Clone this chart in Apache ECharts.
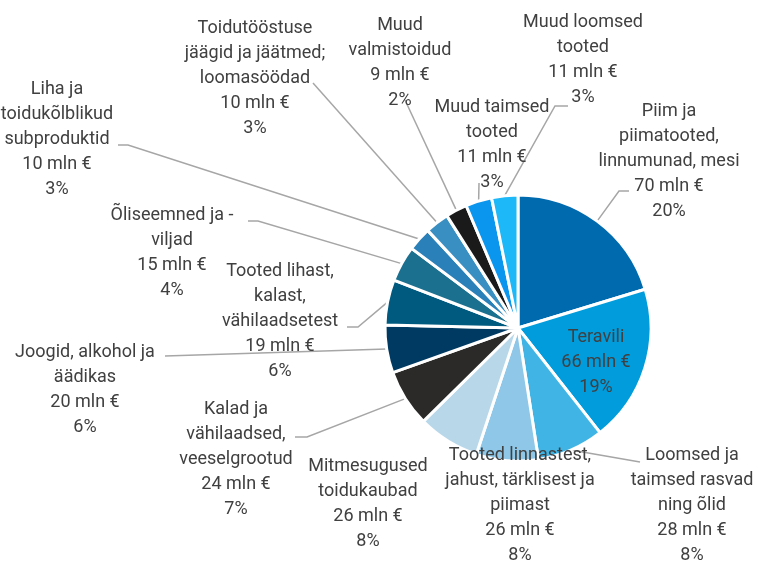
<!DOCTYPE html>
<html>
<head>
<meta charset="utf-8">
<script src="https://cdn.jsdelivr.net/npm/echarts@6/dist/echarts.min.js"></script>
<style>
  html, body { margin: 0; padding: 0; background: #fff; }
  #chart { width: 760px; height: 565px; }
</style>
</head>
<body>
<div id="chart"></div>
<script>
// slices, clockwise from 12 o'clock
const categories = [
  "Piim ja\npiimatooted,\nlinnumunad, mesi",
  "Teravili",
  "Loomsed ja\ntaimsed rasvad\nning õlid",
  "Tooted linnastest,\njahust, tärklisest ja\npiimast",
  "Mitmesugused\ntoidukaubad",
  "Kalad ja\nvähilaadsed,\nveeselgrootud",
  "Joogid, alkohol ja\näädikas",
  "Tooted lihast,\nkalast,\nvähilaadsetest",
  "Õliseemned ja -\nviljad",
  "Liha ja\ntoidukõlblikud\nsubproduktid",
  "Toidutööstuse\njäägid ja jäätmed;\nloomasöödad",
  "Muud\nvalmistoidud",
  "Muud taimsed\ntooted",
  "Muud loomsed\ntooted",
];
const values = [70, 66, 28, 26, 26, 24, 20, 19, 15, 10, 10, 9, 11, 11];
const percents = ["20%", "19%", "8%", "8%", "8%", "7%", "6%", "6%", "4%", "3%", "3%", "2%", "3%", "3%"];
const colors = [
  "#006aaf", "#009cdc", "#40b4e5", "#8ec7e7", "#b8d8ea", "#2c2a29", "#003a62",
  "#005a7f", "#1b6f8f", "#2a80b8", "#3a8fc2", "#1a1a1a", "#0a95ef", "#1cb8f8",
];

// where each label block sits (centre), where its leader starts, and the short elbow
const labelSpots = [
  { x: 669, y: 161, anchor: [-40, 30], bend: -10 },
  { x: 596, y: 362, anchor: null },
  { x: 692, y: 505, anchor: [-52, -43], bend: 0 },
  { x: 520, y: 505, anchor: null },
  { x: 368, y: 504, anchor: null },
  { x: 236, y: 459, anchor: [59, -22], bend: 12 },
  { x: 85, y: 390, anchor: [80, -34], bend: 0 },
  { x: 280, y: 321, anchor: [67, 6], bend: 11 },
  { x: 172, y: 253, anchor: [76, -32], bend: 10 },
  { x: 57, y: 139, anchor: [61, 6], bend: 10 },
  { x: 255, y: 78, anchor: [58, 5], bend: 0 },
  { x: 400, y: 63, anchor: [5, 37], bend: 0 },
  { x: 492, y: 145, anchor: [-13, 38], bend: 0 },
  { x: 583, y: 60, anchor: [-15, 46], bend: -13 },
];

const chart = echarts.init(document.getElementById("chart"));

const option = {
  animation: false,
  series: [
    {
      type: "pie",
      center: [518, 328],
      radius: 133,
      startAngle: 90,
      clockwise: true,
      avoidLabelOverlap: false,
      itemStyle: { borderColor: "#fff", borderWidth: 3 },
      label: {
        show: true,
        position: "outside",
        fontFamily: "Roboto",
        fontSize: 18,
        lineHeight: 25,
        color: "#404040",
        formatter: (p) => `${p.name}\n${p.value} mln €\n${percents[p.dataIndex]}`,
      },
      labelLine: {
        show: true,
        lineStyle: { color: "#a6a6a6", width: 1.5 },
      },
      labelLayout: function (params) {
        const spot = labelSpots[params.dataIndex];
        const out = { x: spot.x, y: spot.y, align: "center", verticalAlign: "middle" };
        if (spot.anchor && params.labelLinePoints) {
          const edge = params.labelLinePoints[0];
          const ax = spot.x + spot.anchor[0];
          const ay = spot.y + spot.anchor[1];
          const pts = [edge];
          if (spot.bend) pts.push([ax + spot.bend, ay]);
          pts.push([ax, ay]);
          out.labelLinePoints = pts;
        }
        return out;
      },
      data: categories.map((name, i) => ({
        name: name,
        value: values[i],
        itemStyle: { color: colors[i] },
        labelLine: { show: labelSpots[i].anchor !== null },
      })),
    },
  ],
};

chart.setOption(option);
</script>
</body>
</html>
